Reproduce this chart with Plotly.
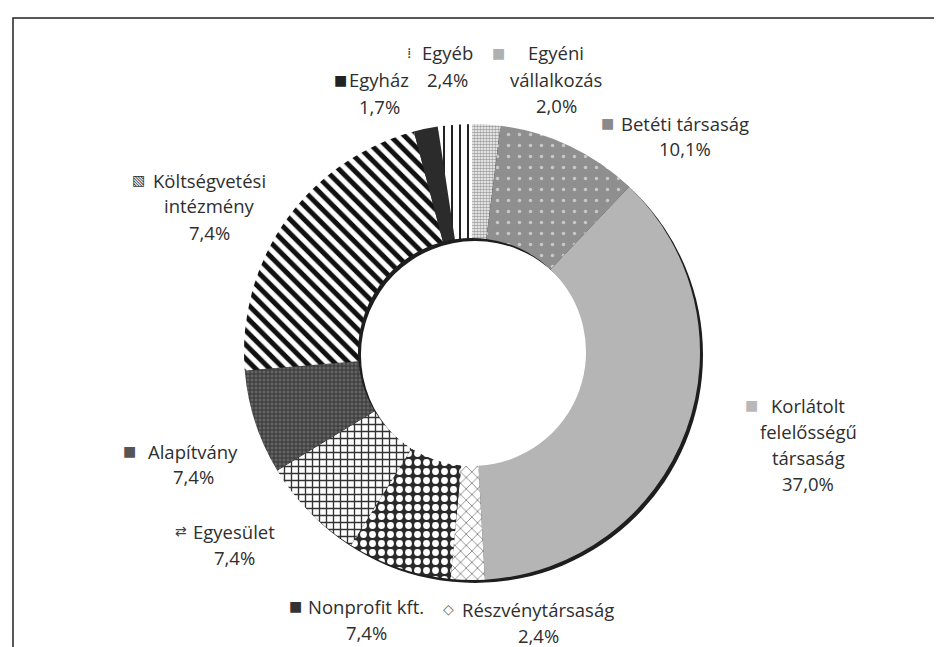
import plotly.graph_objects as go

# adatok (az óramutató járásával egyezően, 12 órától)
categories = ["Egyéni vállalkozás", "Betéti társaság", "Korlátolt felelősségű társaság",
              "Részvénytársaság", "Nonprofit kft.", "Egyesület", "Alapítvány",
              "Költségvetési intézmény", "Egyház", "Egyéb"]
values = [2.0, 10.1, 37.0, 2.4, 7.4, 7.4, 7.4, 22.2, 1.7, 2.4]
pct_text = ["2,0%", "10,1%", "37,0%", "2,4%", "7,4%", "7,4%", "7,4%", "7,4%", "1,7%", "2,4%"]
name_lines = [["Egyéni", "vállalkozás"], ["Betéti társaság"], ["Korlátolt", "felelősségű", "társaság"],
              ["Részvénytársaság"], ["Nonprofit kft."], ["Egyesület"], ["Alapítvány"],
              ["Költségvetési", "intézmény"], ["Egyház"], ["Egyéb"]]

W, H = 942, 647
def px(x): return x / W
def py(y): return 1 - y / H

# mintázatok
bg = ["#ffffff", "#8f8f8f", "#b5b5b5", "#ffffff", "#2a2a2a", "#ffffff", "#646464", "#ffffff", "#2b2b2b", "#ffffff"]
fg = ["#a0a0a0", "#c8c8c8", "#b5b5b5", "#808080", "#ffffff", "#333333", "#303030", "#111111", "#2b2b2b", "#222222"]
shapes = [".", ".", "", "x", ".", "+", "+", "\\", "", "|"]
sizes = [3, 11, 8, 8, 9, 7, 4, 10, 8, 8]
solid = [0.6, 0.08, 0.3, 0.2, 0.45, 0.35, 0.4, 0.5, 0.3, 0.25]

# címkék helye: (szöveg közepe x, első sor y, jelölő x)
label_pos = [(548, 45, 490), (677, 115, 599), (800, 397, 743), (530, 601, 440), (358, 598, 287),
             (226, 523, 173), (185, 443, 121), (201, 172, 130), (371, 72, 332), (439, 45, 401)]
swatch_char = ["■", "■", "■", "◇", "■", "⇄", "■", "▧", "■", "⁞"]
swatch_col = ["#b0b0b0", "#8a8a8a", "#b8b8b8", "#666666", "#333333", "#444444", "#555555", "#333333", "#222222", "#333333"]

cx, cy, r = 464, 344, 228
off = 3

fig = go.Figure()
# árnyék
fig.add_trace(go.Pie(values=[1], hole=0.5, sort=False, textinfo="none", hoverinfo="skip",
                     marker=dict(colors=["#1e1e1e"], line=dict(width=0)), showlegend=False,
                     domain=dict(x=[px(cx - r + off), px(cx + r + off)], y=[py(cy + r + off), py(cy - r + off)])))
fig.add_trace(go.Pie(labels=categories, values=values, hole=0.5, sort=False,
                     direction="clockwise", rotation=0, textinfo="none", showlegend=False,
                     marker=dict(colors=bg, line=dict(width=0),
                                 pattern=dict(shape=shapes, fgcolor=fg, size=sizes, fgopacity=1,
                                              solidity=solid, fillmode="overlay")),
                     domain=dict(x=[px(cx - r), px(cx + r)], y=[py(cy + r), py(cy - r)])))

font = dict(family="Open Sans, sans-serif", size=18.5, color="#2e2e2e")
annotations = []
for i in range(len(categories)):
    x, y0, sx = label_pos[i]
    lines = name_lines[i] + [pct_text[i]]
    for k, line in enumerate(lines):
        annotations.append(dict(x=px(x), y=py(y0 + 26 * k), xref="paper", yref="paper",
                                text=line, showarrow=False, font=font,
                                xanchor="center", yanchor="middle"))
    annotations.append(dict(x=px(sx), y=py(y0), xref="paper", yref="paper", text=swatch_char[i],
                            showarrow=False, font=dict(family="DejaVu Sans", size=14, color=swatch_col[i]),
                            xanchor="center", yanchor="middle"))

fig.update_layout(
    width=W, height=H, margin=dict(l=0, r=0, t=0, b=0),
    paper_bgcolor="white", plot_bgcolor="white",
    annotations=annotations,
    shapes=[dict(type="rect", xref="paper", yref="paper", x0=px(5), x1=px(936), y0=-0.1, y1=py(10),
                 line=dict(color="#222222", width=1.5), fillcolor="rgba(0,0,0,0)")],
)

fig.write_html("out.html")
